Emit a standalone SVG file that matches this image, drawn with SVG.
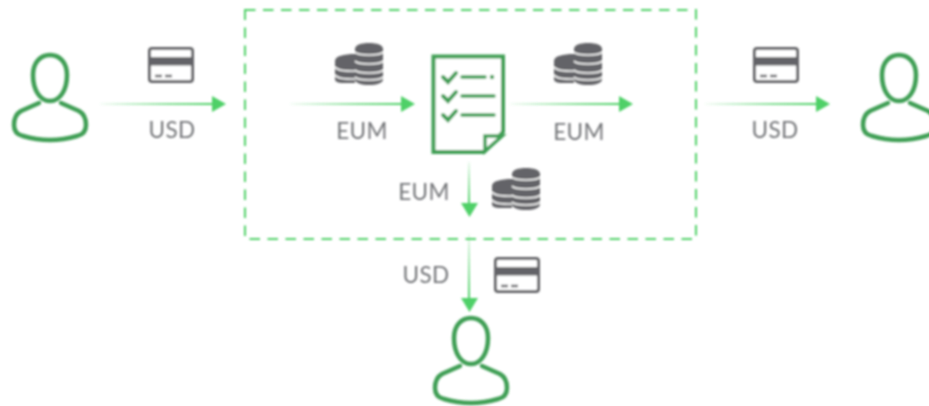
<svg xmlns="http://www.w3.org/2000/svg" width="929" height="406" viewBox="0 0 929 406">
<style>
.t{font-family:"Lato","Open Sans",sans-serif;font-size:22.5px;letter-spacing:0.4px;fill:#737578;text-anchor:middle}
.p{fill:none;stroke:#3f9f55;stroke-width:4.5;stroke-linecap:round;stroke-linejoin:round}
.l{fill:none;stroke:#3f9f55;stroke-width:3.5;stroke-linecap:round}
.c{fill:#fff;stroke:#636467;stroke-width:3}
</style>
<defs>
<linearGradient id="gh"><stop offset="0" stop-color="#4fd067" stop-opacity="0.05"/><stop offset="0.6" stop-color="#4fd067" stop-opacity="0.7"/><stop offset="1" stop-color="#4fd067"/></linearGradient>
<linearGradient id="gv" x1="0" y1="0" x2="0" y2="1"><stop offset="0" stop-color="#4fd067" stop-opacity="0.1"/><stop offset="1" stop-color="#4fd067"/></linearGradient>
<filter id="soft" x="0" y="0" width="929" height="406" filterUnits="userSpaceOnUse"><feGaussianBlur stdDeviation="0.85"/></filter>
<symbol id="person" overflow="visible">
<path class="p" d="M50 55C60 55 67 63 67 75C67 90 60 101 50 101C40 101 33 90 33 75C33 63 40 55 50 55Z"/>
<path class="p" d="M39 103L21 111Q14 115 14 125Q14 134 23 136Q50 144 77 136Q86 134 86 125Q86 115 79 111L61 103"/>
</symbol>
<symbol id="card" overflow="visible">
<rect class="c" x="1.500" y="1.500" width="43" height="33" rx="2.500"/>
<rect x="1.500" y="10" width="43" height="8.500" fill="#636467"/>
<path d="M7 29H14M17 29H24" stroke="#636467" stroke-width="2.500" fill="none"/>
</symbol>
<symbol id="coins" overflow="visible">
<path d="M21 11C10 11 1 13 1 18V36C1 41 10 40 21 40Z" fill="#636467"/>
<path d="M1 24C4 28 12 28 21 28M1 32C4 36 12 36 21 36" stroke="#fff" stroke-width="1.600" fill="none"/>
<path d="M21 6C21 2 27 0 35 0C43 0 49 2 49 6V36C49 40 43 42 35 42C27 42 21 40 21 36Z" fill="#636467"/>
<path d="M21 9C24 13 46 13 49 9M21 18C24 22 46 22 49 18M21 27C24 31 46 31 49 27M21 34C24 38 46 38 49 34" stroke="#fff" stroke-width="1.600" fill="none"/>
</symbol>
</defs>
<rect width="929" height="406" fill="#fff"/>
<g filter="url(#soft)">
<g id="boundary"><rect x="245" y="10" width="451" height="229" fill="none" stroke="#4fd067" stroke-width="2" stroke-dasharray="10.500 7.500"/></g>
<g id="connectors">
<rect x="100" y="103" width="113" height="2" fill="url(#gh)"/><path d="M212 96L226 104L212 112Z" fill="#4fd067"/>
<rect x="290" y="103" width="112" height="2" fill="url(#gh)"/><path d="M401 96L415 104L401 112Z" fill="#4fd067"/>
<rect x="510" y="103" width="110" height="2" fill="url(#gh)"/><path d="M619 96L633 104L619 112Z" fill="#4fd067"/>
<rect x="705" y="103" width="112" height="2" fill="url(#gh)"/><path d="M816 96L830 104L816 112Z" fill="#4fd067"/>
<rect x="468" y="162" width="2" height="42" fill="url(#gv)"/><path d="M461 203H478L469.500 217Z" fill="#4fd067"/>
<rect x="468" y="234" width="2" height="65" fill="url(#gv)"/><path d="M461 298H478L469.500 312Z" fill="#4fd067"/>
</g>
<g id="sender"><use href="#person"/></g>
<g id="receiver"><use href="#person" x="849"/></g>
<g id="bottom-user"><use href="#person" x="421" y="263"/></g>
<g id="contract">
<path d="M433.500 56.500H503V132L484 152H433.500Z" fill="#fff" stroke="#3f9f55" stroke-width="4"/>
<path d="M485 151V136H502L485 151Z" fill="#fff" stroke="#3f9f55" stroke-width="3.500"/>
<path d="M443 77L448 82L456 73M443 96L448 101L456 92M443 115L448 120L456 111" fill="none" stroke="#3f9f55" stroke-width="4" stroke-linecap="round"/>
<path class="l" d="M462 77H485M462 96H494M462 115H494"/>
<circle cx="492" cy="77" r="2.200" fill="#3f9f55"/>
</g>
<g id="card-left"><use href="#card" x="148" y="47"/></g>
<g id="card-right"><use href="#card" x="753" y="47"/></g>
<g id="card-bottom"><use href="#card" x="494" y="257"/></g>
<g id="coins-left"><use href="#coins" x="334" y="43"/></g>
<g id="coins-right"><use href="#coins" x="553" y="43"/></g>
<g id="coins-bottom"><use href="#coins" x="491" y="168"/></g>
<g id="labels">
<text class="t" x="172" y="138">USD</text>
<text class="t" x="362" y="139">EUM</text>
<text class="t" x="579" y="140">EUM</text>
<text class="t" x="424" y="200">EUM</text>
<text class="t" x="775" y="138">USD</text>
<text class="t" x="426" y="283">USD</text>
</g>
</g>
</svg>
